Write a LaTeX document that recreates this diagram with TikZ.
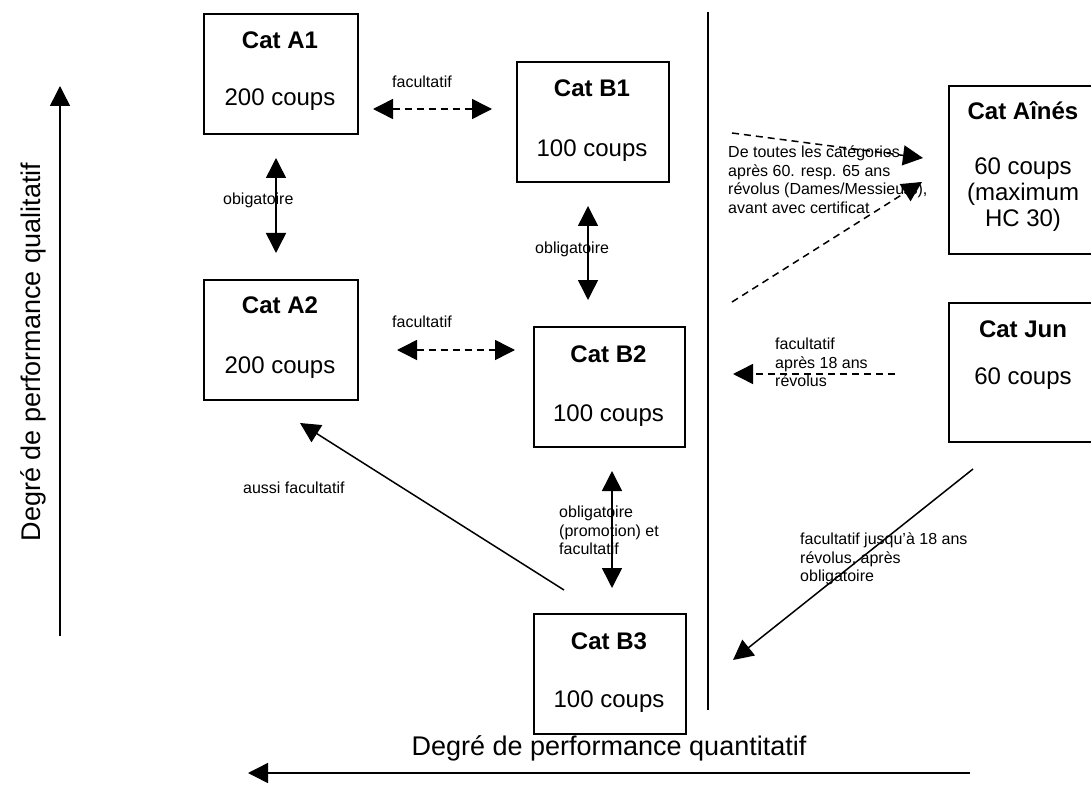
\documentclass[tikz,border=0pt]{standalone}
\usepackage{fontspec}
\setmainfont{Liberation Sans}
\usetikzlibrary{arrows.meta}
\begin{document}
\begin{tikzpicture}[x=1pt,y=-1pt,
  box/.style={draw, line width=1.6pt, anchor=north west, inner sep=0pt},
  ttl/.style={font=\fontsize{24}{28}\selectfont\bfseries, anchor=base, inner sep=0pt},
  bdy/.style={font=\fontsize{24}{28}\selectfont, anchor=base, inner sep=0pt},
  lbl/.style={font=\fontsize{16}{18.4}\selectfont, inner sep=0pt, align=left, anchor=north west},
  lblw/.style={font=\fontsize{16}{18.4}\selectfont, inner sep=0pt, anchor=west},
  axl/.style={font=\fontsize{27}{31}\selectfont, inner sep=0pt, anchor=base},
  tip/.tip={Triangle[length=20pt,width=20pt]},
  arr/.style={line width=1.5pt, -tip},
  biarr/.style={line width=1.5pt, tip-tip},
  dashln/.style={dash pattern=on 7pt off 5pt}
]
\useasboundingbox (0,0) rectangle (1091,810);

% boxes
\node[box, minimum width=154pt, minimum height=120pt] (A1) at (203,13) {};
\node[box, minimum width=152pt, minimum height=120pt] (B1) at (516,61) {};
\node[box, minimum width=154pt, minimum height=120pt] (A2) at (203,279) {};
\node[box, minimum width=151pt, minimum height=120pt] (B2) at (533,326) {};
\node[box, minimum width=152pt, minimum height=120pt] (B3) at (533,613) {};
\node[box, minimum width=150pt, minimum height=168pt] (AI) at (948,85) {};
\node[box, minimum width=150pt, minimum height=139pt] (JU) at (948,302) {};

% box texts
\node[ttl] (A1t) at (280,49) {Cat A1};
\node[bdy] (A1b) at (280,106) {200 coups};
\node[ttl] (B1t) at (592,97) {Cat B1};
\node[bdy] (B1b) at (592,157) {100 coups};
\node[ttl] (A2t) at (280,313) {Cat A2};
\node[bdy] (A2b) at (280,373) {200 coups};
\node[ttl] (B2t) at (608.5,362) {Cat B2};
\node[bdy] (B2b) at (608.5,421) {100 coups};
\node[ttl] (B3t) at (609,649) {Cat B3};
\node[bdy] (B3b) at (609,707) {100 coups};
\node[ttl] (AIt) at (1023,120) {Cat Aînés};
\node[bdy] (AIb1) at (1023,175) {60 coups};
\node[bdy] (AIb2) at (1023,201) {(maximum};
\node[bdy] (AIb3) at (1023,226) {HC 30)};
\node[ttl] (JUt) at (1023,337) {Cat Jun};
\node[bdy] (JUb) at (1023,384) {60 coups};

% separator
\coordinate (sepT) at (708,12);
\coordinate (sepB) at (708,710);
\draw[line width=1.6pt] (sepT) -- (sepB);

% connector end points
\coordinate (a1b1s) at (373,109);
\coordinate (a1b1e) at (492,109);
\coordinate (a1a2s) at (276,158);
\coordinate (a1a2e) at (276,253);
\coordinate (b1b2s) at (588,206);
\coordinate (b1b2e) at (588,300);
\coordinate (a2b2s) at (397,350);
\coordinate (a2b2e) at (515,350);
\coordinate (b2b3s) at (612,471);
\coordinate (b2b3e) at (612,588);
\coordinate (b3a2s) at (564,590);
\coordinate (b3a2e) at (300,423);
\coordinate (ai1s) at (732,133);
\coordinate (ai1e) at (923,158);
\coordinate (ai2s) at (732,302);
\coordinate (ai2e) at (922,182);
\coordinate (jus) at (895,374);
\coordinate (jue) at (733,374);
\coordinate (jub3s) at (973,469);
\coordinate (jub3e) at (733,660);
\coordinate (qualS) at (60,636);
\coordinate (qualE) at (60,86);
\coordinate (quanS) at (970,773);
\coordinate (quanE) at (248,773);

% connectors
\draw[biarr, dashln] (a1b1s) -- (a1b1e);
\draw[biarr] (a1a2s) -- (a1a2e);
\draw[biarr] (b1b2s) -- (b1b2e);
\draw[biarr, dashln] (a2b2s) -- (a2b2e);
\draw[biarr] (b2b3s) -- (b2b3e);
\draw[arr] (b3a2s) -- (b3a2e);
\draw[arr, dashln] (ai1s) -- (ai1e);
\draw[arr, dashln] (ai2s) -- (ai2e);
\draw[arr, dashln] (jus) -- (jue);
\draw[arr] (jub3s) -- (jub3e);
\draw[arr] (qualS) -- (qualE);
\draw[arr] (quanS) -- (quanE);

% labels
\node[lblw] (l1) at (392,82) {facultatif};
\node[lblw] (l2) at (223,200) {obigatoire};
\node[lblw] (l3) at (535,249) {obligatoire};
\node[lblw] (l4) at (392,322) {facultatif};
\node[lblw] (l5) at (243,488) {aussi facultatif};
\node[lbl] (l6) at (559,506) {obligatoire\\(promotion) et\\facultatif};
\node[lbl] (l7) at (728,146) {De toutes les catégories\\après 60. resp. 65 ans\\révolus (Dames/Messieurs),\\avant avec certificat};
\node[lbl] (l8) at (775,338) {facultatif\\après 18 ans\\révolus};
\node[lbl] (l9) at (800,533) {facultatif jusqu’à 18 ans\\révolus, après\\obligatoire};

% axis labels
\node[axl, rotate=90] (qual) at (40,352) {Degré de performance qualitatif};
\node[axl] (quan) at (609,755) {Degré de performance quantitatif};
\end{tikzpicture}
\end{document}
